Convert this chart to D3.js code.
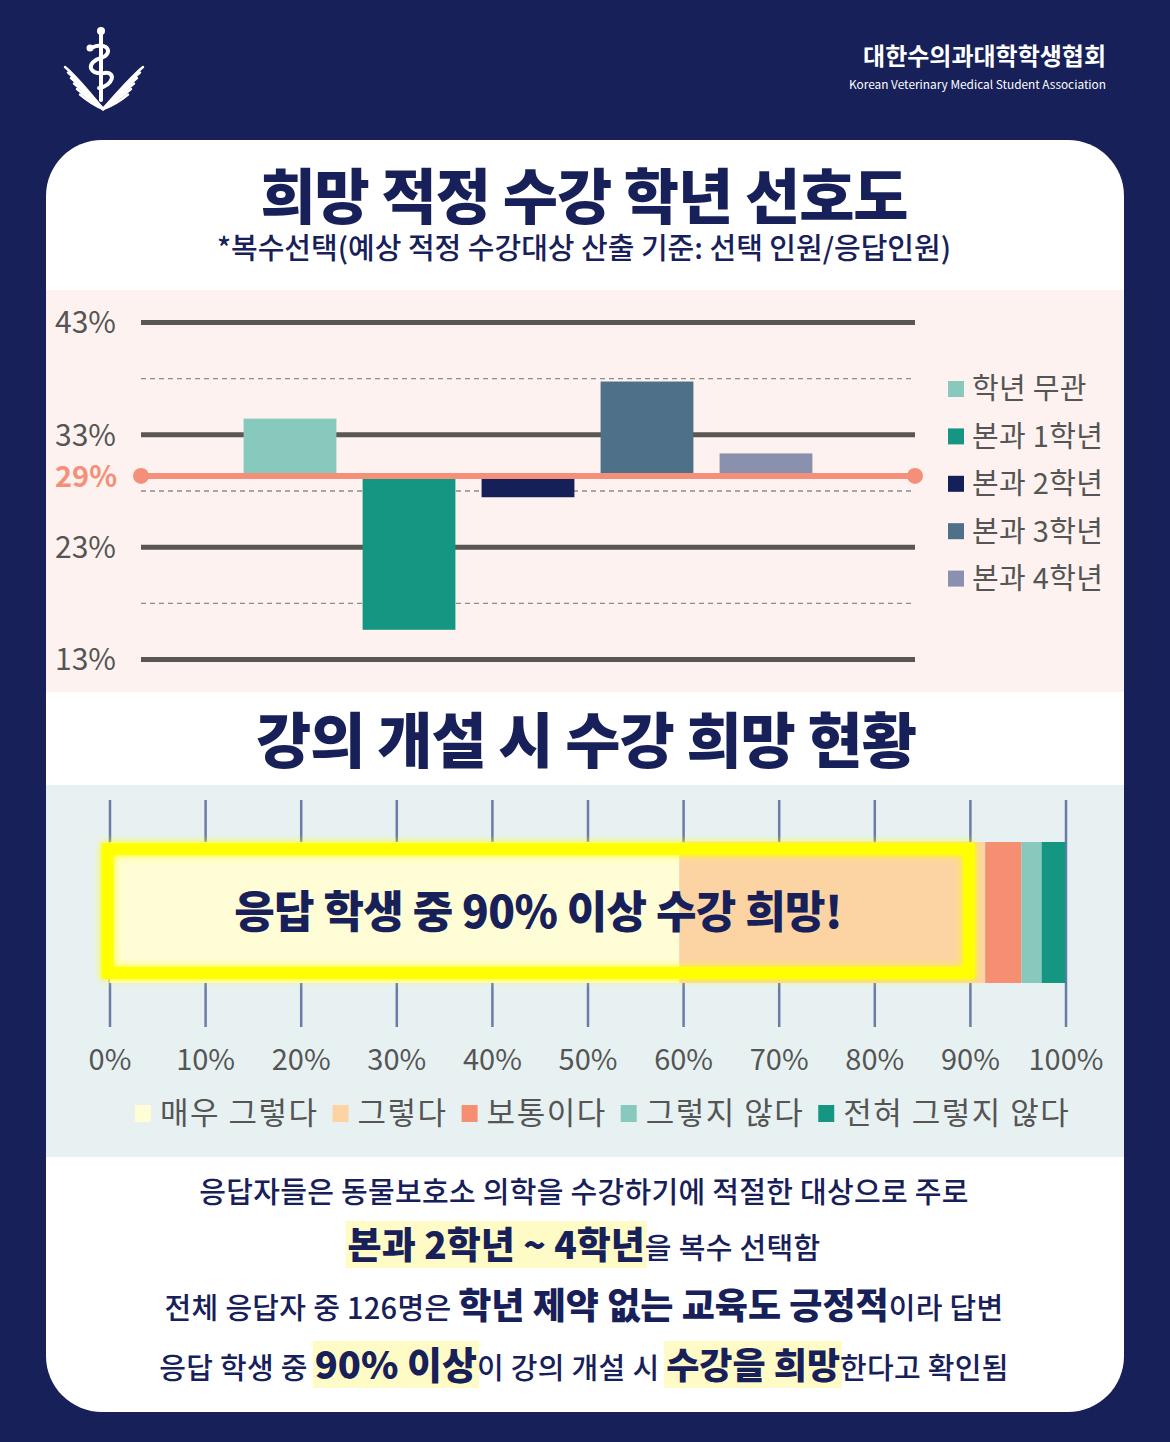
<!DOCTYPE HTML>
<html>
<head>
<meta charset="utf-8" />
<title>희망 적정 수강 학년 선호도</title>
<script src="https://cdnjs.cloudflare.com/ajax/libs/d3/7.8.5/d3.min.js"></script>
<style>
body { margin: 0; background: #172059; }
svg { display: block; }
text { font-family: "Noto Sans CJK KR", "Noto Sans", sans-serif; white-space: pre; }
</style>
</head>
<body>
<svg id="canvas" width="1170" height="1442"></svg>
<script>
// --- top chart: preferred grade (multiple choice, % of respondents)
var gradeCats = ["학년 무관", "본과 1학년", "본과 2학년", "본과 3학년", "본과 4학년"];
var gradeVals = [34.4, 15.6, 27.4, 37.7, 31.3];
var gradeColors = ["#88c9be", "#149682", "#151f58", "#4e7089", "#8a91ae"];
var gradeBase = 29.3;          // average line
var gradeBaseLabel = "29%";
var gradeTicks = [13, 23, 33, 43];
var gradeMinor = [18, 28, 38];

// --- bottom chart: would take the course
var wishCats = ["매우 그렇다", "그렇다", "보통이다", "그렇지 않다", "전혀 그렇지 않다"];
var wishVals = [59.6, 32.0, 3.8, 2.1, 2.5];
var wishColors = ["#fffdd6", "#fcd4a4", "#f68e72", "#88c9be", "#149682"];
var wishTicks = [0, 10, 20, 30, 40, 50, 60, 70, 80, 90, 100];

// --- summary text (0 plain, 1 bold, 2 bold + highlight)
var notes = [
  [["응답자들은 동물보호소 의학을 수강하기에 적절한 대상으로 주로", 0]],
  [["본과 2학년 ~ 4학년", 2], ["을 복수 선택함", 0]],
  [["전체 응답자 중 126명은 ", 0], ["학년 제약 없는 교육도 긍정적", 1], ["이라 답변", 0]],
  [["응답 학생 중 ", 0], ["90% 이상", 2], ["이 강의 개설 시 ", 0], ["수강을 희망", 2], ["한다고 확인됨", 0]]
];

var navy = "#172059";
var svg = d3.select("#canvas");
var defs = svg.append("defs");

defs.append("clipPath").attr("id", "card")
  .append("rect").attr("x", 46).attr("y", 140).attr("width", 1078).attr("height", 1272).attr("rx", 56);

var glow = defs.append("filter").attr("id", "glow")
  .attr("x", "-5%").attr("y", "-20%").attr("width", "110%").attr("height", "140%");
glow.append("feGaussianBlur").attr("in", "SourceGraphic").attr("stdDeviation", 4).attr("result", "b");
var merge = glow.append("feMerge");
merge.append("feMergeNode").attr("in", "b");
merge.append("feMergeNode").attr("in", "SourceGraphic");

svg.append("rect").attr("width", 1170).attr("height", 1442).attr("fill", navy);

// ---------- header
var logo = svg.append("g").attr("fill", "none").attr("stroke", "#fff").attr("stroke-linecap", "round");
for (var i = 0; i < 6; i++) {
  var ly = 67 + i * 5.5, lx = 65 + i * 3;
  logo.append("path").attr("stroke-width", 2.4)
    .attr("d", "M103,109 Q" + (lx + 12) + "," + (ly + 10) + " " + lx + "," + ly);
  logo.append("path").attr("stroke-width", 2.4)
    .attr("d", "M103,109 Q" + (208 - lx - 12) + "," + (ly + 10) + " " + (208 - lx) + "," + ly);
}
logo.append("line").attr("x1", 101).attr("y1", 34).attr("x2", 101).attr("y2", 100).attr("stroke-width", 4);
logo.append("circle").attr("cx", 101).attr("cy", 31).attr("r", 4).attr("fill", "#fff").attr("stroke", "none");
logo.append("path").attr("stroke-width", 4)
  .attr("d", "M91,48 C108,40 114,54 101,58 C86,62 88,75 104,73 C117,71 113,86 99,88");
logo.append("circle").attr("cx", 90).attr("cy", 48).attr("r", 3.5).attr("fill", "#fff").attr("stroke", "none");

svg.append("text").attr("x", 1106).attr("y", 65).attr("text-anchor", "end")
  .attr("font-size", 24).attr("font-weight", 700).attr("fill", "#fff")
  .text("대한수의과대학학생협회");
svg.append("text").attr("x", 849).attr("y", 89)
  .attr("font-size", 11.5).attr("fill", "#fff").attr("font-family", "Roboto")
  .attr("textLength", 257).attr("lengthAdjust", "spacingAndGlyphs")
  .text("Korean Veterinary Medical Student Association");

// ---------- card
svg.append("rect").attr("x", 46).attr("y", 140).attr("width", 1078).attr("height", 1272)
  .attr("rx", 56).attr("fill", "#fff");
var card = svg.append("g").attr("clip-path", "url(#card)");
card.append("rect").attr("x", 46).attr("y", 290).attr("width", 1078).attr("height", 402).attr("fill", "#fdf2ef");
card.append("rect").attr("x", 46).attr("y", 785).attr("width", 1078).attr("height", 372).attr("fill", "#e7f1f2");

svg.append("text").attr("x", 584).attr("y", 219).attr("text-anchor", "middle")
  .attr("font-size", 60).attr("font-weight", 900).attr("letter-spacing", -1).attr("fill", navy)
  .text("희망 적정 수강 학년 선호도");
svg.append("text").attr("x", 584).attr("y", 259).attr("text-anchor", "middle")
  .attr("font-size", 29).attr("font-weight", 500).attr("fill", navy)
  .text("*복수선택(예상 적정 수강대상 산출 기준: 선택 인원/응답인원)");

// ---------- top chart
var y = d3.scaleLinear().domain([13, 43]).range([659, 322]);
var x = d3.scaleBand().domain(gradeCats).range([230.5, 825.5]).paddingInner(0.22).paddingOuter(0.11);
var gx0 = 141, gx1 = 915;

var minorAxis = svg.append("g").attr("transform", "translate(" + gx0 + ",0)")
  .call(d3.axisLeft(y).tickValues(gradeMinor).tickSize(-(gx1 - gx0)).tickFormat(""));
minorAxis.select(".domain").remove();
minorAxis.selectAll("line").attr("stroke", "#8c8c8c").attr("stroke-width", 1.4).attr("stroke-dasharray", "5,4");

var yAxis = svg.append("g").attr("transform", "translate(" + gx0 + ",0)")
  .call(d3.axisLeft(y).tickValues(gradeTicks).tickSize(-(gx1 - gx0)).tickFormat(function(d) { return d + "%"; }));
yAxis.select(".domain").remove();
yAxis.selectAll("line").attr("stroke", "#595654").attr("stroke-width", 5);
yAxis.selectAll("text").attr("x", 55 - gx0).attr("dy", "0.36em").attr("text-anchor", "start")
  .attr("font-size", 30).attr("fill", "#555").attr("font-family", "\"Noto Sans CJK KR\"");

svg.append("g").selectAll("rect").data(gradeVals).join("rect")
  .attr("x", function(d, i) { return x(gradeCats[i]); })
  .attr("width", x.bandwidth())
  .attr("y", function(d) { return y(Math.max(d, gradeBase)); })
  .attr("height", function(d) { return Math.abs(y(d) - y(gradeBase)); })
  .attr("fill", function(d, i) { return gradeColors[i]; });

var orange = "#f4907a";
svg.append("line").attr("x1", gx0).attr("x2", gx1).attr("y1", y(gradeBase)).attr("y2", y(gradeBase))
  .attr("stroke", orange).attr("stroke-width", 6);
svg.append("g").selectAll("circle").data([gx0, gx1]).join("circle")
  .attr("cx", function(d) { return d; }).attr("cy", y(gradeBase)).attr("r", 8).attr("fill", orange);
svg.append("text").attr("x", 55).attr("y", y(gradeBase)).attr("dy", "0.38em")
  .attr("font-size", 29).attr("font-weight", 700).attr("fill", orange).text(gradeBaseLabel);

var leg1 = svg.append("g").selectAll("g").data(gradeCats).join("g")
  .attr("transform", function(d, i) { return "translate(948," + (389 + i * 47.4) + ")"; });
leg1.append("rect").attr("y", -8).attr("width", 16).attr("height", 16)
  .attr("fill", function(d, i) { return gradeColors[i]; });
leg1.append("text").attr("x", 24).attr("dy", "0.36em").attr("font-size", 29).attr("letter-spacing", 0.3)
  .attr("fill", "#555")
  .text(function(d) { return d; });

// ---------- bottom chart
svg.append("text").attr("x", 586).attr("y", 763).attr("text-anchor", "middle")
  .attr("font-size", 60).attr("font-weight", 900).attr("letter-spacing", -1).attr("fill", navy)
  .text("강의 개설 시 수강 희망 현황");

var xw = d3.scaleLinear().domain([0, 100]).range([109.5, 1065.5]);
var xAxis = svg.append("g").attr("transform", "translate(0,1027)")
  .call(d3.axisBottom(xw).tickValues(wishTicks).tickSize(-227).tickPadding(22)
    .tickFormat(function(d) { return d + "%"; }));
xAxis.select(".domain").remove();
xAxis.selectAll("line").attr("stroke", "#6a7ca6").attr("stroke-width", 2.5);
xAxis.selectAll("text").attr("font-size", 29).attr("fill", "#555").attr("font-family", "\"Noto Sans CJK KR\"");

var starts = [0];
wishVals.forEach(function(v, i) { starts.push(starts[i] + v); });
svg.append("g").selectAll("rect").data(wishVals).join("rect")
  .attr("x", function(d, i) { return xw(starts[i]); })
  .attr("width", function(d) { return xw(d) - xw(0); })
  .attr("y", 842).attr("height", 141)
  .attr("fill", function(d, i) { return wishColors[i]; });

svg.append("rect").attr("x", 107.5).attr("y", 849).attr("width", 861.5).attr("height", 124)
  .attr("fill", "none").attr("stroke", "#ffff00").attr("stroke-width", 12).attr("filter", "url(#glow)");
svg.append("text").attr("x", 538).attr("y", 928).attr("text-anchor", "middle")
  .attr("font-size", 44).attr("font-weight", 900).attr("letter-spacing", -0.6).attr("fill", navy)
  .text("응답 학생 중 90% 이상 수강 희망!");

// legend laid out in one row
var leg2 = svg.append("g").attr("transform", "translate(0,1113)");
var lx = 135;
wishCats.forEach(function(c, i) {
  leg2.append("rect").attr("x", lx).attr("y", -8).attr("width", 16).attr("height", 17).attr("fill", wishColors[i]);
  var t = leg2.append("text").attr("x", lx + 25).attr("dy", "0.36em").attr("font-size", 31)
    .attr("letter-spacing", 1.5).attr("fill", "#555").text(c);
  lx += 25 + t.node().getComputedTextLength() + 14;
});

// ---------- summary
var noteY = [1203, 1259, 1319, 1379];
var noteSize = [[29], [37, 29], [29, 36, 29], [29, 38, 29, 36, 29]];
notes.forEach(function(line, li) {
  var g = svg.append("g");
  var hl = g.append("g");
  var items = line.map(function(p, pi) {
    var t = g.append("text").attr("xml:space", "preserve").attr("y", noteY[li])
      .attr("font-size", noteSize[li][pi]).attr("fill", navy)
      .attr("font-weight", p[1] ? 900 : 500).attr("letter-spacing", p[1] ? 0 : 0.3)
      .text(p[0]);
    return { t: t, w: t.node().getComputedTextLength(), kind: p[1] };
  });
  var total = d3.sum(items, function(d) { return d.w; });
  var cx = 584 - total / 2;
  items.forEach(function(it) {
    it.t.attr("x", cx);
    if (it.kind === 2) {
      hl.append("rect").attr("x", cx - 2).attr("y", noteY[li] - 38).attr("width", it.w + 4).attr("height", 47)
        .attr("fill", "#fffbc6");
    }
    cx += it.w;
  });
});
</script>
</body>
</html>
